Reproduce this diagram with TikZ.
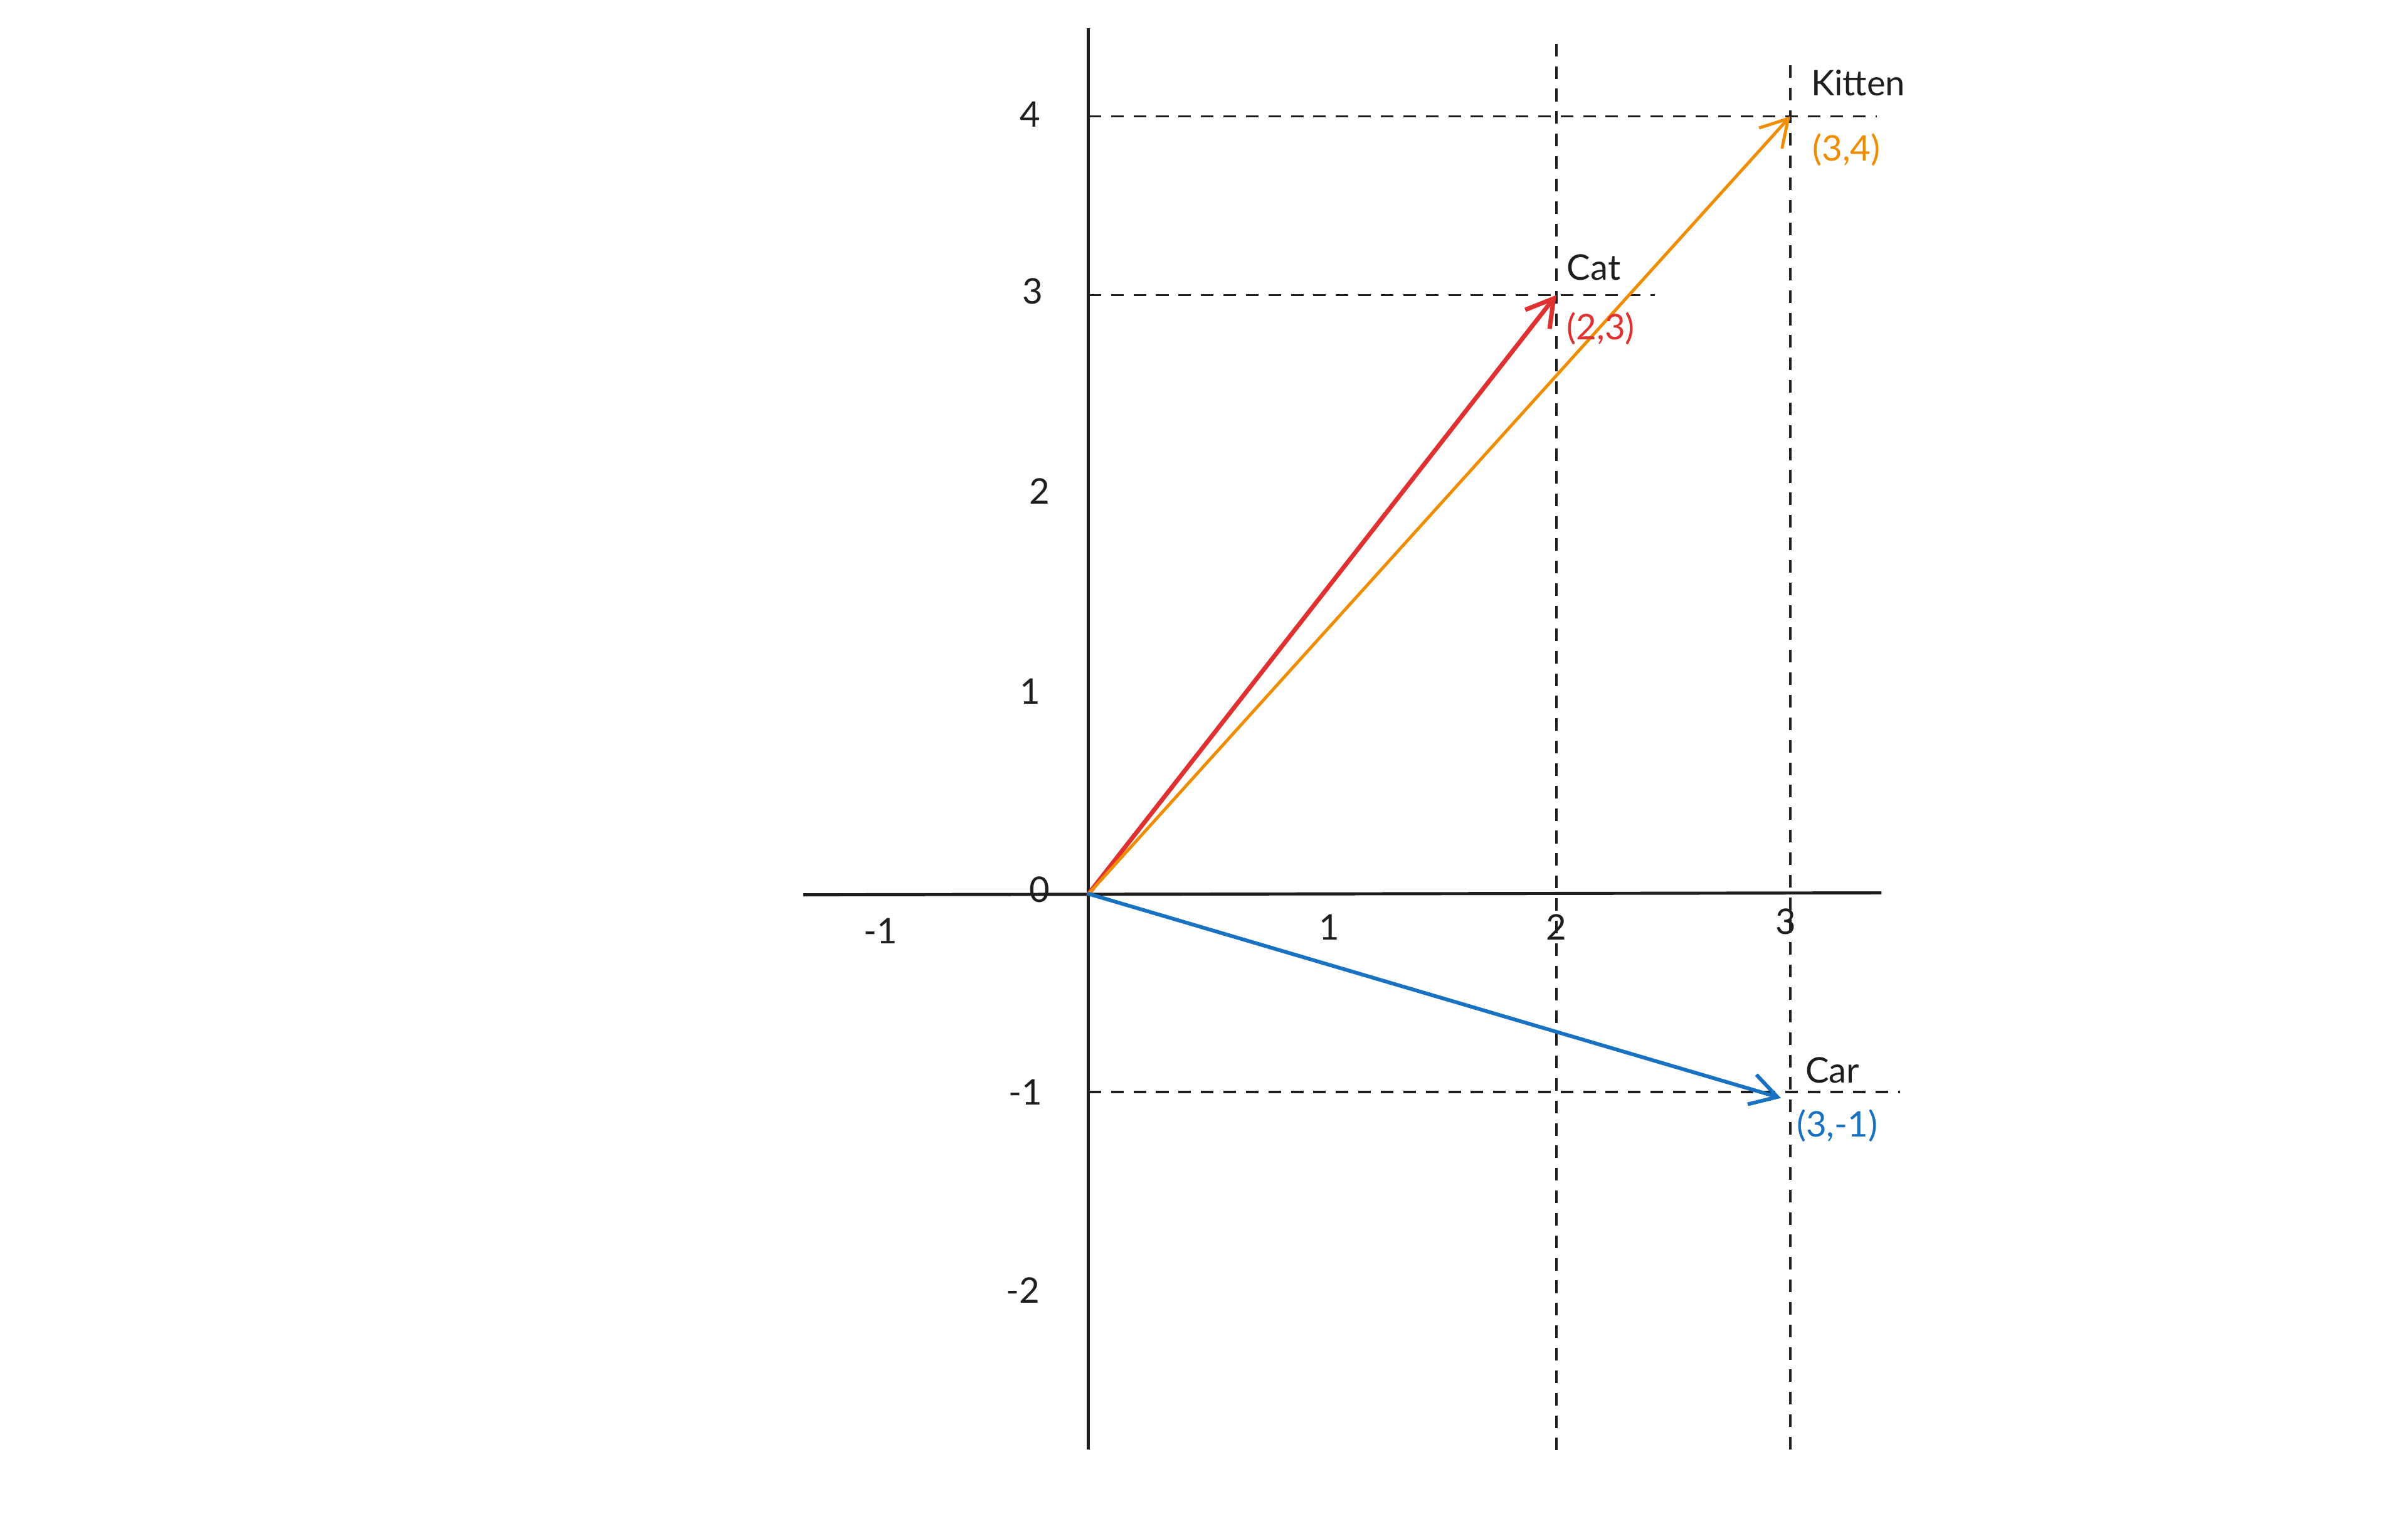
\documentclass[tikz,border=0pt]{standalone}
\usepackage{fontspec}
\setmainfont{Lato}
\usetikzlibrary{arrows.meta}
\definecolor{ink}{HTML}{1E1E1E}
\definecolor{catred}{HTML}{E03131}
\definecolor{kitorange}{HTML}{F08C00}
\definecolor{carblue}{HTML}{1971C2}

\begin{document}
\begin{tikzpicture}[x=3.73cm,y=3.13cm]
\tikzstyle{every node}=[inner sep=1pt, text=ink, font=\fontsize{16}{19}\selectfont]
\tikzstyle{axis}=[draw=ink, line width=1.4pt]
\tikzstyle{guide}=[draw=ink, line width=1.05pt, dash pattern=on 5.7pt off 4.5pt]
\tikzstyle{vec}=[-{Straight Barb[length=12pt,width=14pt]}, line cap=round, line join=round]
\useasboundingbox (-4.654,-3.169) rectangle (5.641,4.553);
% axes
\coordinate (o) at (0,0);
\coordinate (xl) at (-1.22,-0.005);
\coordinate (xr) at (3.39,0.005);
\coordinate (yb) at (0,-2.83);
\coordinate (yt) at (0,4.41);
\draw[axis] (xl) -- (xr);
\draw[axis] (yb) -- (yt);
% guides
\coordinate (cat) at (2,3.05);
\coordinate (kitten) at (3,3.96);
\coordinate (car) at (3,-1.01);
\coordinate (g2t) at (2,4.33);
\coordinate (g2b) at (2,-2.87);
\coordinate (g3t) at (3,4.22);
\coordinate (g3b) at (3,-2.84);
\coordinate (h4l) at (0,3.96);
\coordinate (h4r) at (3.37,3.96);
\coordinate (h3l) at (0,3.05);
\coordinate (h3r) at (2.42,3.05);
\coordinate (hml) at (0,-1.01);
\coordinate (hmr) at (3.47,-1.01);
\draw[guide] (g2t) -- (g2b);
\draw[guide] (g3t) -- (g3b);
\draw[guide] (h4l) -- (h4r);
\draw[guide] (h3l) -- (h3r);
\draw[guide] (hml) -- (hmr);
% tick labels
\draw (-0.21,0.02) node (t0) {0};
\draw (-0.89,-0.19) node (tx-1) {-1};
\draw (1.03,-0.17) node (tx1) {1};
\draw (2.0,-0.17) node (tx2) {2};
\draw (2.98,-0.14) node (tx3) {3};
\draw (-0.25,3.97) node (ty4) {4};
\draw (-0.24,3.07) node (ty3) {3};
\draw (-0.21,2.05) node (ty2) {2};
\draw (-0.25,1.03) node (ty1) {1};
\draw (-0.27,-1.01) node (ty-1) {-1};
\draw (-0.28,-2.02) node (ty-2) {-2};
% vectors
\coordinate (carend) at (2.96,-1.04);
\draw[vec, catred, line width=2pt] (o) -- (cat);
\draw[vec, kitorange, line width=1.4pt] (o) -- (kitten);
\draw[vec, carblue, line width=1.7pt] (o) -- (carend);
% labels
\draw (2.16,3.19) node (catname) {Cat};
\draw (2.19,2.88) node (catxy) [text=catred] {(2,3)};
\draw (3.29,4.13) node (kitname) {Kitten};
\draw (3.24,3.79) node (kitxy) [text=kitorange] {(3,4)};
\draw (3.18,-0.90) node (carname) {Car};
\draw (3.20,-1.18) node (carxy) [text=carblue] {(3,-1)};
\end{tikzpicture}
\end{document}
